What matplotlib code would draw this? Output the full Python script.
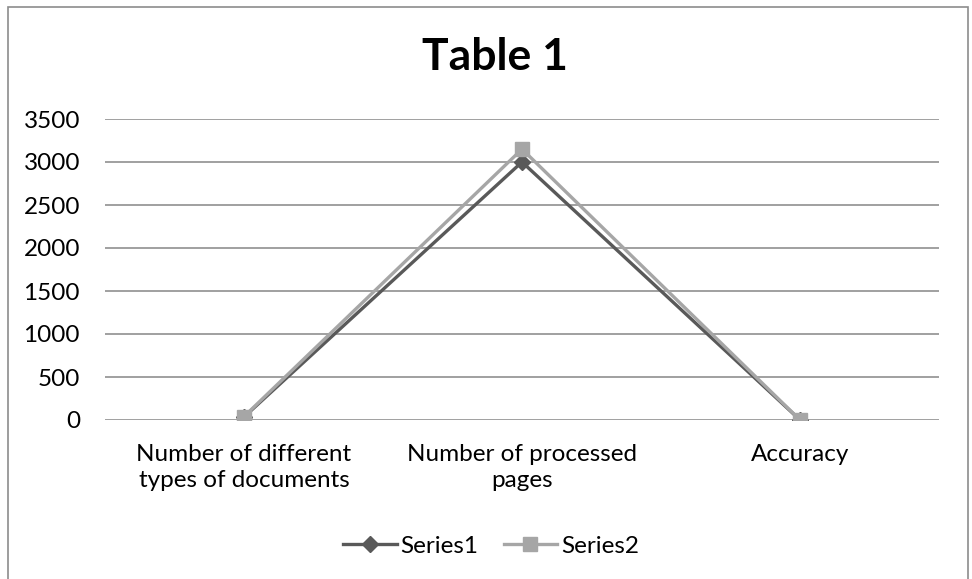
import numpy as np
import matplotlib.pyplot as plt
import matplotlib.patches as patches

categories = ["Number of different\ntypes of documents", "Number of processed\npages", "Accuracy"]
series1 = [35, 3000, 0.95]
series2 = [40, 3150, 0.95]
y_ticks = [0, 500, 1000, 1500, 2000, 2500, 3000, 3500]

plt.rcParams['font.family'] = ['Lato', 'DejaVu Sans']

fig = plt.figure(figsize=(9.72, 5.79), dpi=100)
W, H = 972, 579

# outer chart border
fig.patches.append(patches.Rectangle((8 / W, -0.05), 960 / W, 1.05 - 7 / H,
                                     transform=fig.transFigure, fill=False,
                                     edgecolor='#8c8c8c', linewidth=1.2))

ax = fig.add_axes([105 / W, (H - 420) / H, (939 - 105) / W, (420 - 119) / H])

x = np.arange(len(categories))
ax.plot(x, series1, color='#595959', linewidth=2.4, marker='D', markersize=8,
        label='Series1', zorder=3)
ax.plot(x, series2, color='#a6a6a6', linewidth=2.4, marker='s', markersize=10.5,
        label='Series2', zorder=4)

ax.set_xlim(-0.5, 2.5)
ax.set_ylim(0, 3500)
ax.set_yticks(y_ticks)
ax.set_xticks(x)
ax.set_xticklabels(categories, fontsize=17.5, linespacing=1.3)
ax.tick_params(axis='y', labelsize=17.5, length=0, pad=18)
ax.tick_params(axis='x', length=0, pad=17)
ax.grid(axis='y', color='#868686', linewidth=1.1)
ax.set_axisbelow(True)
for s in ax.spines.values():
    s.set_visible(False)

fig.text(495 / W, 1 - 57 / H, "Table 1", fontsize=32, fontweight='bold',
         ha='center', va='center')

fig.legend(loc='center', bbox_to_anchor=(491 / W, 1 - 546 / H), ncol=2,
           frameon=False, fontsize=17.5, handlelength=2.2, columnspacing=1.05,
           handletextpad=0.15)

fig.savefig('out.png', dpi=100)
